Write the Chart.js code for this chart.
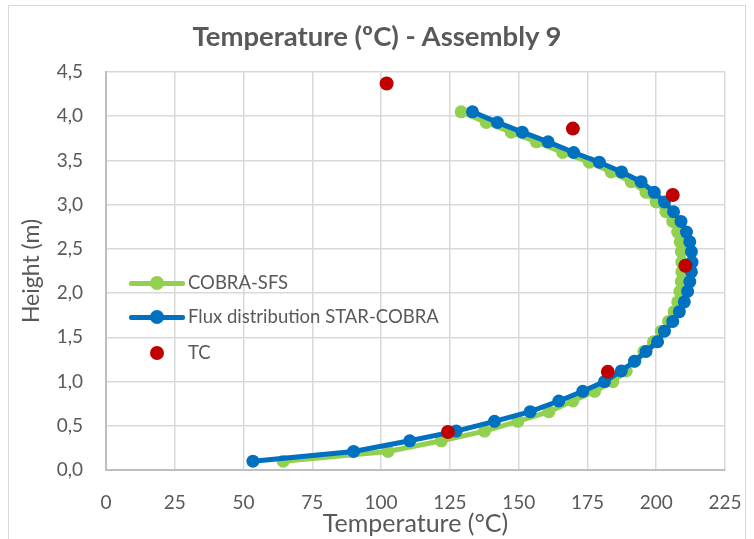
<!DOCTYPE html>
<html>
<head>
<meta charset="utf-8">
<script src="https://cdn.jsdelivr.net/npm/chart.js@4/dist/chart.umd.min.js"></script>
<style>
html,body{margin:0;padding:0;background:#fff;}
#wrap{position:relative;width:754px;height:539px;overflow:hidden;font-family:Lato,'Open Sans',sans-serif;color:#595959;}
#frame{position:absolute;left:8px;top:5px;width:738px;height:560px;border:1px solid #d9d9d9;box-sizing:border-box;}
#chart{position:absolute;left:0;top:0;}
#title{position:absolute;left:8px;width:738px;top:21px;text-align:center;font-weight:bold;font-size:27.5px;line-height:30px;}
.leg{position:absolute;left:129px;height:20px;font-size:18.5px;line-height:20px;white-space:nowrap;}
.leg .sym{position:absolute;left:0;top:0;width:56px;height:20px;}
.leg .ln{position:absolute;left:0;top:8px;width:56px;height:5px;border-radius:2px;}
.leg .dot{position:absolute;left:21px;top:3px;width:14px;height:14px;border-radius:50%;}
.leg .tx{position:absolute;left:59px;top:-1px;}
</style>
</head>
<body>
<div id="wrap">
  <div id="frame"></div>
  <canvas id="chart" width="754" height="539"></canvas>
  <div id="title">Temperature (ºC) - Assembly 9</div>
  <div class="leg" style="top:273px"><div class="sym"><div class="ln" style="background:#92d050"></div><div class="dot" style="background:#92d050"></div></div><span class="tx">COBRA-SFS</span></div>
  <div class="leg" style="top:307px"><div class="sym"><div class="ln" style="background:#0070c0"></div><div class="dot" style="background:#0070c0"></div></div><span class="tx">Flux distribution STAR-COBRA</span></div>
  <div class="leg" style="top:343px"><div class="sym"><div class="dot" style="background:#c00000"></div></div><span class="tx">TC</span></div>
</div>
<script>
// Heights (m) of the axial nodes, bottom to top
const heights = [0.10, 0.21, 0.33, 0.44, 0.55, 0.66, 0.78, 0.89, 1.00, 1.12, 1.23, 1.34, 1.45, 1.57, 1.68, 1.79, 1.90, 2.02,
                 2.13, 2.24, 2.35, 2.47, 2.58, 2.69, 2.81, 2.92, 3.03, 3.14, 3.26, 3.37, 3.48, 3.59, 3.71, 3.82, 3.93, 4.05];
// COBRA-SFS temperatures (°C)
const cobraSfs = [64.4, 102.5, 121.9, 137.6, 149.7, 161.0, 169.7, 177.6, 184.2, 189.1, 192.3, 195.5, 199.0, 201.8, 204.5, 206.5, 207.8, 208.6,
                  209.1, 209.3, 209.3, 209.1, 208.7, 207.8, 206.0, 203.5, 200.0, 196.3, 190.9, 183.6, 175.7, 166.0, 156.4, 147.3, 138.2, 129.1];
// Flux distribution STAR-COBRA temperatures (°C)
const starCobra = [53.4, 90.0, 110.4, 127.3, 141.2, 154.2, 164.6, 173.3, 181.2, 187.3, 192.1, 196.3, 200.5, 203.0, 206.0, 208.4, 210.2, 211.4,
                   212.2, 212.8, 213.0, 212.8, 212.2, 211.0, 209.0, 206.3, 203.0, 199.3, 194.5, 187.4, 179.3, 170.0, 160.7, 151.3, 142.3, 133.2];
// Thermocouple measurements
const tcTemp   = [124.3, 182.4, 210.6, 206.0, 169.7, 102.0];
const tcHeight = [0.43, 1.11, 2.31, 3.11, 3.86, 4.37];
// Axis ticks
const xTicks = [0, 25, 50, 75, 100, 125, 150, 175, 200, 225];
const yTicks = [0, 0.5, 1.0, 1.5, 2.0, 2.5, 3.0, 3.5, 4.0, 4.5];

const pts = (xs, ys) => xs.map((x, i) => ({x: x, y: ys[i]}));
const FONT = 'Lato, "Open Sans", sans-serif';
const GRAY = '#595959';

new Chart(document.getElementById('chart'), {
  type: 'scatter',
  data: {
    datasets: [
      {label: 'COBRA-SFS', data: pts(cobraSfs, heights), showLine: true, borderColor: '#92d050', backgroundColor: '#92d050',
       borderWidth: 5, pointRadius: 6.5, pointHoverRadius: 6.5, pointBorderWidth: 0, tension: 0, order: 3},
      {label: 'Flux distribution STAR-COBRA', data: pts(starCobra, heights), showLine: true, borderColor: '#0070c0', backgroundColor: '#0070c0',
       borderWidth: 5, pointRadius: 6.5, pointHoverRadius: 6.5, pointBorderWidth: 0, tension: 0, order: 2},
      {label: 'TC', data: pts(tcTemp, tcHeight), showLine: false, borderColor: '#c00000', backgroundColor: '#c00000',
       pointRadius: 7, pointHoverRadius: 7, pointBorderWidth: 0, order: 1}
    ]
  },
  options: {
    responsive: false,
    animation: false,
    layout: {padding: {left: 0, right: 29, top: 72, bottom: 0}},
    plugins: {legend: {display: false}, title: {display: false}, tooltip: {enabled: false}},
    scales: {
      x: {
        type: 'linear', min: 0, max: 225,
        afterBuildTicks: s => { s.ticks = xTicks.map(v => ({value: v})); },
        afterFit: s => { s.height = 69; s.paddingLeft = 0; s.paddingRight = 0; },
        grid: {color: '#d9d9d9', lineWidth: 1.5, drawTicks: false},
        border: {color: '#bfbfbf', width: 2},
        ticks: {color: GRAY, font: {family: FONT, size: 19}, padding: 21, maxRotation: 0, autoSkip: false},
        title: {display: true, text: 'Temperature (°C)', color: GRAY, font: {family: FONT, size: 25}, padding: {top: 0, bottom: 0}}
      },
      y: {
        type: 'linear', min: 0, max: 4.5,
        afterBuildTicks: s => { s.ticks = yTicks.map(v => ({value: v})); },
        afterFit: s => { s.width = 106; s.paddingTop = 0; s.paddingBottom = 0; },
        grid: {color: '#d9d9d9', lineWidth: 1.5, drawTicks: false},
        border: {color: '#bfbfbf', width: 2},
        ticks: {color: GRAY, font: {family: FONT, size: 19}, padding: 23, autoSkip: false,
                callback: v => v.toFixed(1).replace('.', ',')},
        title: {display: true, text: 'Height (m)', color: GRAY, font: {family: FONT, size: 23}, padding: {top: 18, bottom: 0}}
      }
    }
  }
});
</script>
</body>
</html>
